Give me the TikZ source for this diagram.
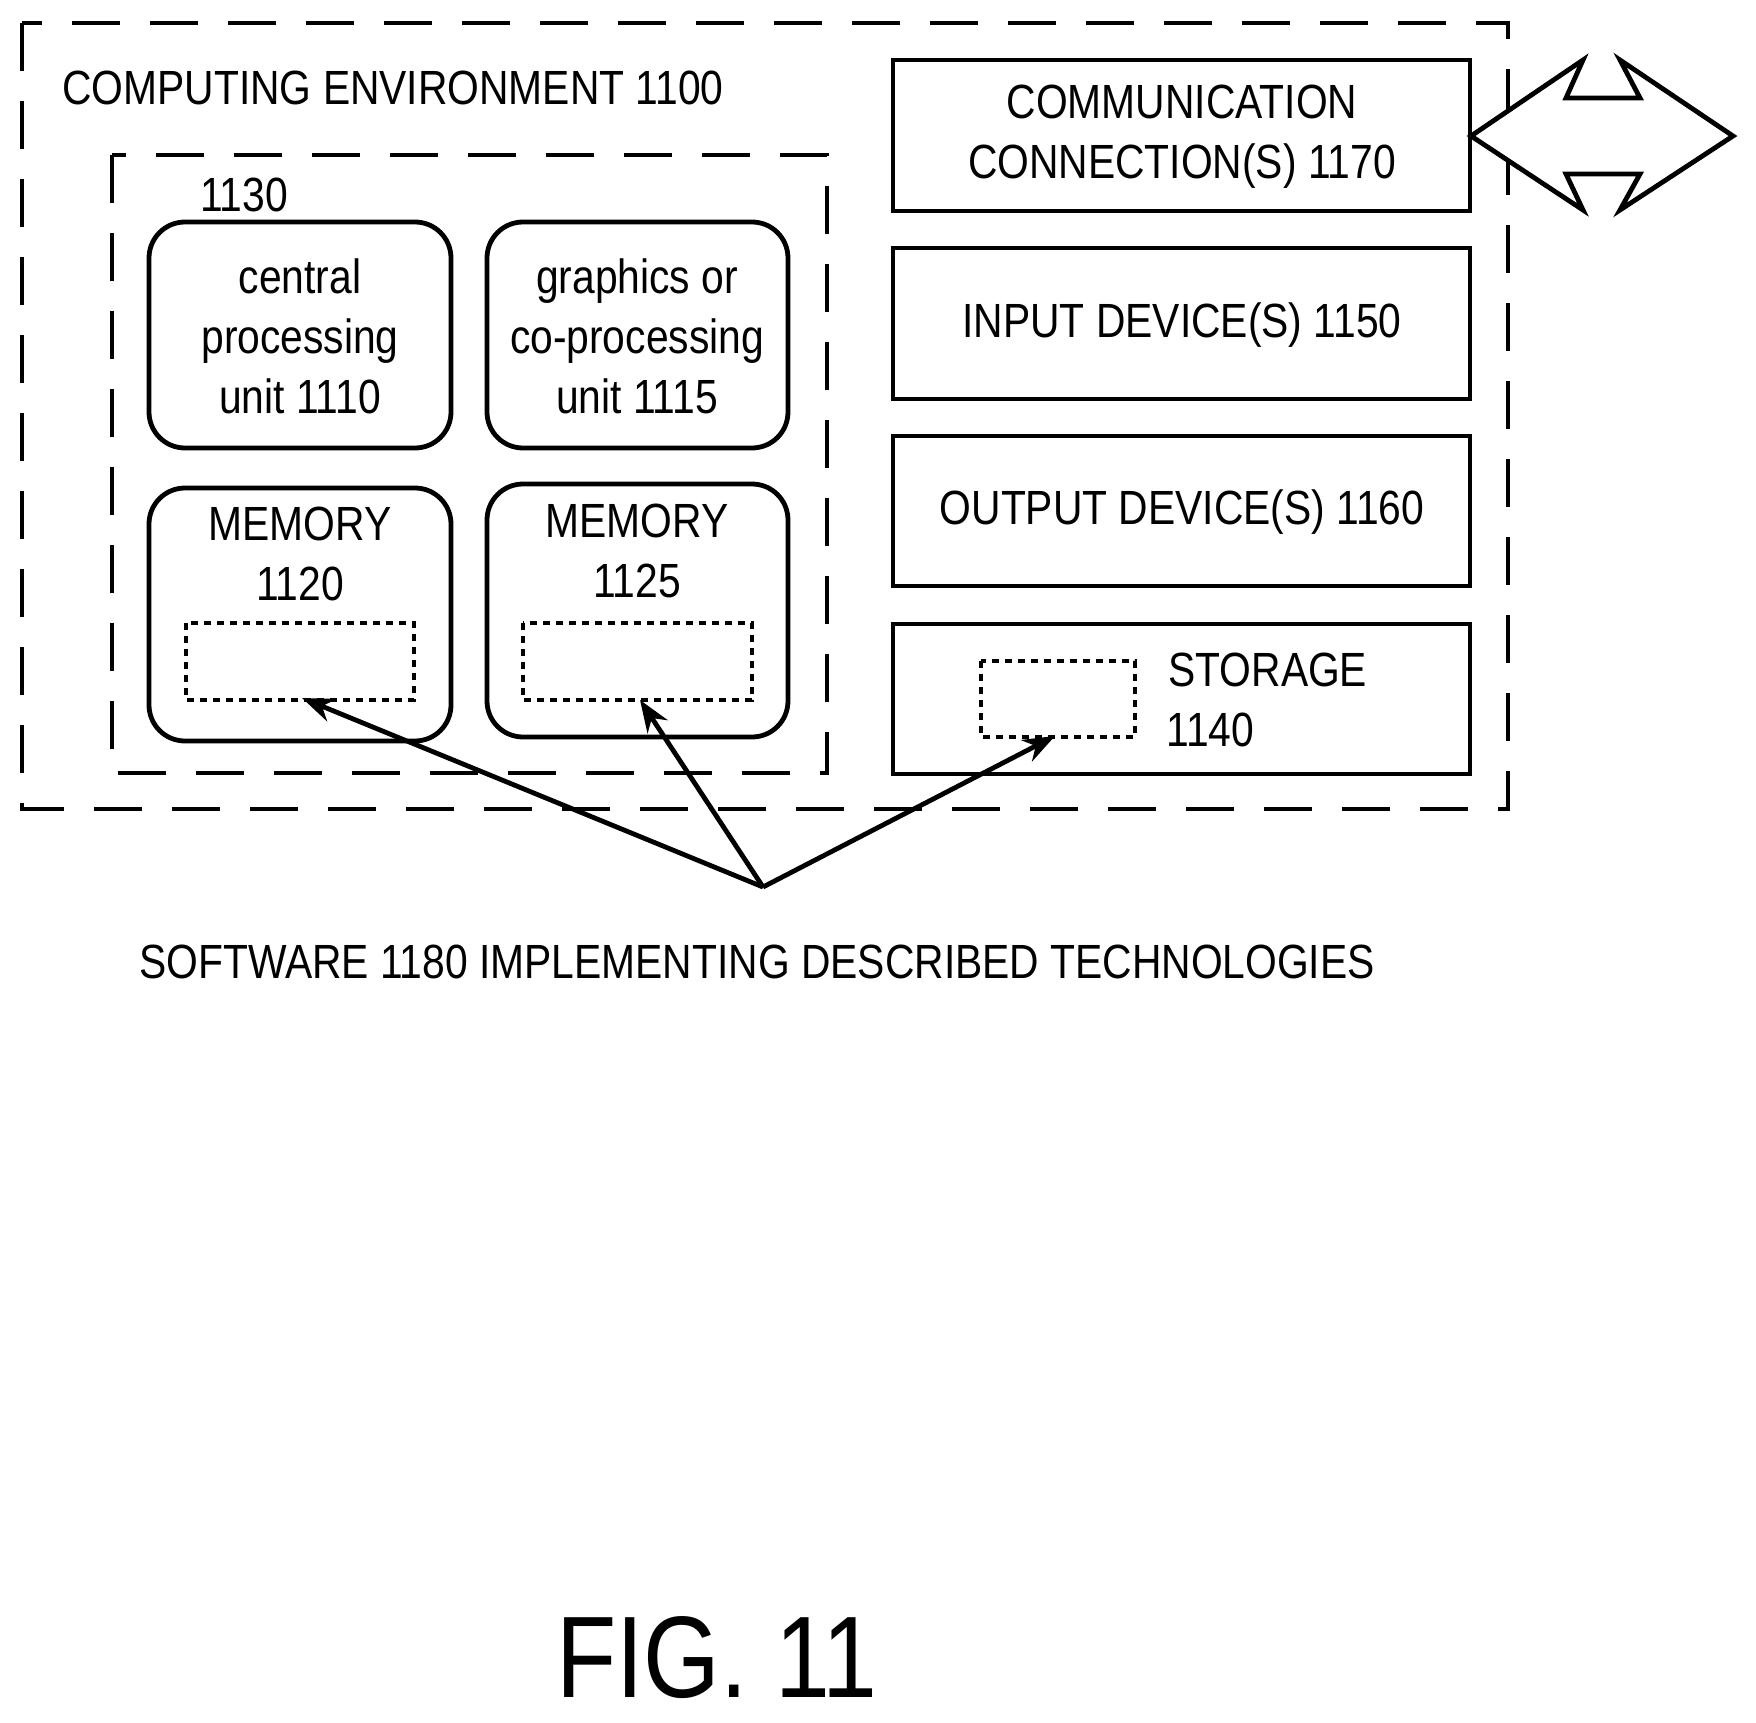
\documentclass[tikz,border=0pt]{standalone}
\usepackage{fontspec}
\setmainfont{Liberation Sans}[FakeStretch=0.85]
\usetikzlibrary{arrows.meta}
\begin{document}
\begin{tikzpicture}[x=0.5pt,y=-0.5pt,
  lw/.style={line width=2.4pt},
  bigdash/.style={lw,dash pattern=on 24pt off 15pt},
  dot/.style={line width=2pt,dash pattern=on 3.5pt off 3pt},
  rbox/.style={lw,rounded corners=18pt},
  txt/.style={font=\fontsize{24}{30}\selectfont,align=center,inner sep=0pt},
  arr/.style={lw,-{Stealth[length=16pt,width=12pt]}}]
\useasboundingbox (0,0) rectangle (1756,1723);
\draw[bigdash] (22,23) rectangle (1508,809);
\node[txt,anchor=west] (title) at (62,88) {COMPUTING ENVIRONMENT 1100};
\draw[bigdash] (112,155) rectangle (827,773);
\node[txt] (l1130) at (244,195) {1130};
\draw[rbox] (149,222) rectangle (451,448);
\node[txt] (cpu) at (300,336) {central\\processing\\unit 1110};
\draw[rbox] (487,222) rectangle (788,448);
\node[txt] (gpu) at (637,336) {graphics or\\co-processing\\unit 1115};
\draw[rbox] (149,488) rectangle (451,741);
\node[txt] (m1) at (300,554) {MEMORY\\1120};
\draw[dot] (186,623) rectangle (414,700);
\coordinate (m1t) at (302,698);
\draw[rbox] (487,484) rectangle (788,737);
\node[txt] (m2) at (637,551) {MEMORY\\1125};
\draw[dot] (523,623) rectangle (752,700);
\coordinate (m2t) at (640,700);
\draw[lw] (893,60) rectangle (1470,211);
\node[txt] (comm) at (1182,137) {COMMUNICATION\\CONNECTION(S) 1170};
\draw[lw] (893,248) rectangle (1470,399);
\node[txt] (inp) at (1182,325) {INPUT DEVICE(S) 1150};
\draw[lw] (893,436) rectangle (1470,586);
\node[txt] (out) at (1182,512) {OUTPUT DEVICE(S) 1160};
\draw[lw] (893,624) rectangle (1470,774);
\draw[dot] (981,661) rectangle (1135,737);
\coordinate (st) at (1055,736);
\node[txt,anchor=west] (stor) at (1168,670) {STORAGE};
\node[txt,anchor=west] (stor2) at (1166,730) {1140};
\draw[lw,line join=miter,fill=white] (1471,136) -- (1583,60) -- (1566,98) -- (1640,98) -- (1620,60) -- (1733,136) -- (1620,210) -- (1640,174) -- (1566,174) -- (1583,210) -- cycle;
\coordinate (src) at (763,887);
\draw[arr] (src) -- (m1t);
\draw[arr] (src) -- (m2t);
\draw[arr] (src) -- (st);
\node[txt] (sw) at (757,962) {SOFTWARE 1180 IMPLEMENTING DESCRIBED TECHNOLOGIES};
\node[inner sep=0pt,font=\fontsize{58}{60}\selectfont] (fig) at (717,1658) {FIG. 11};
\end{tikzpicture}
\end{document}
